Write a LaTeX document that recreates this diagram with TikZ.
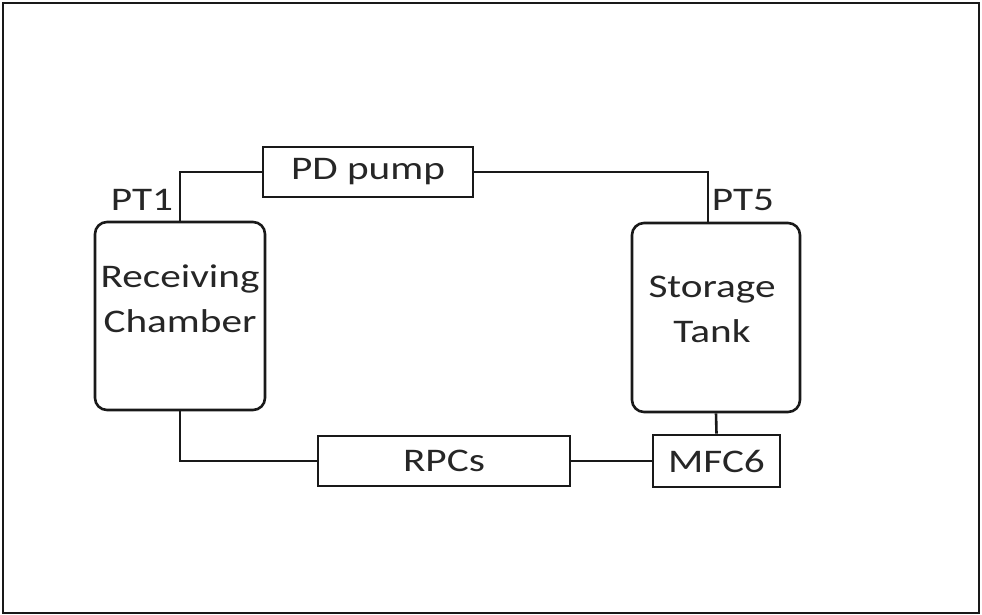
\documentclass[tikz,border=0pt]{standalone}
\usepackage{fontspec}
\setmainfont[FakeStretch=1.25]{Carlito}

\begin{document}
\begin{tikzpicture}[x=1pt,y=-1pt,font=\fontsize{33}{45}\selectfont,
  unit/.style={draw=black!90,line width=2.6pt,inner sep=0pt,text=black!85},
  vessel/.style={unit,rounded corners=12pt},
  pipe/.style={draw=black!90,line width=2.6pt}]
\useasboundingbox (0,0) rectangle (982,615);
\draw[black!90,line width=2.4pt] (3,3) rectangle (979,613);
\node[vessel,minimum width=170pt,minimum height=188pt] (chamber) at (180,316) {};
\node[text=black!85,align=center,inner sep=0pt] (chambertext) at (180,299) {Receiving\\Chamber};
\node[vessel,minimum width=168pt,minimum height=189pt] (tank) at (716,317.5) {};
\node[text=black!85,align=center,inner sep=0pt] (tanktext) at (712,309) {Storage\\Tank};
\node[unit,minimum width=210pt,minimum height=50pt] (pump) at (368,172) {PD pump};
\node[unit,minimum width=252pt,minimum height=50pt] (rpcs) at (444,461) {RPCs};
\node[unit,minimum width=127pt,minimum height=52pt] (mfc) at (716.5,461) {MFC6};
\node[text=black!85,inner sep=0pt] (pt1) at (142,200) {PT1};
\node[text=black!85,inner sep=0pt] (pt5) at (743,200) {PT5};
% loop
\draw[pipe] (chamber.north) |- (pump.west);
\draw[pipe] ([xshift=-8pt]tank.north) |- (pump.east);
\draw[pipe] (chamber.south) |- (rpcs.west);
\draw[pipe] (rpcs.east) -- (mfc.west);
\draw[pipe] (tank.south) -- (mfc.north);
\end{tikzpicture}
\end{document}
